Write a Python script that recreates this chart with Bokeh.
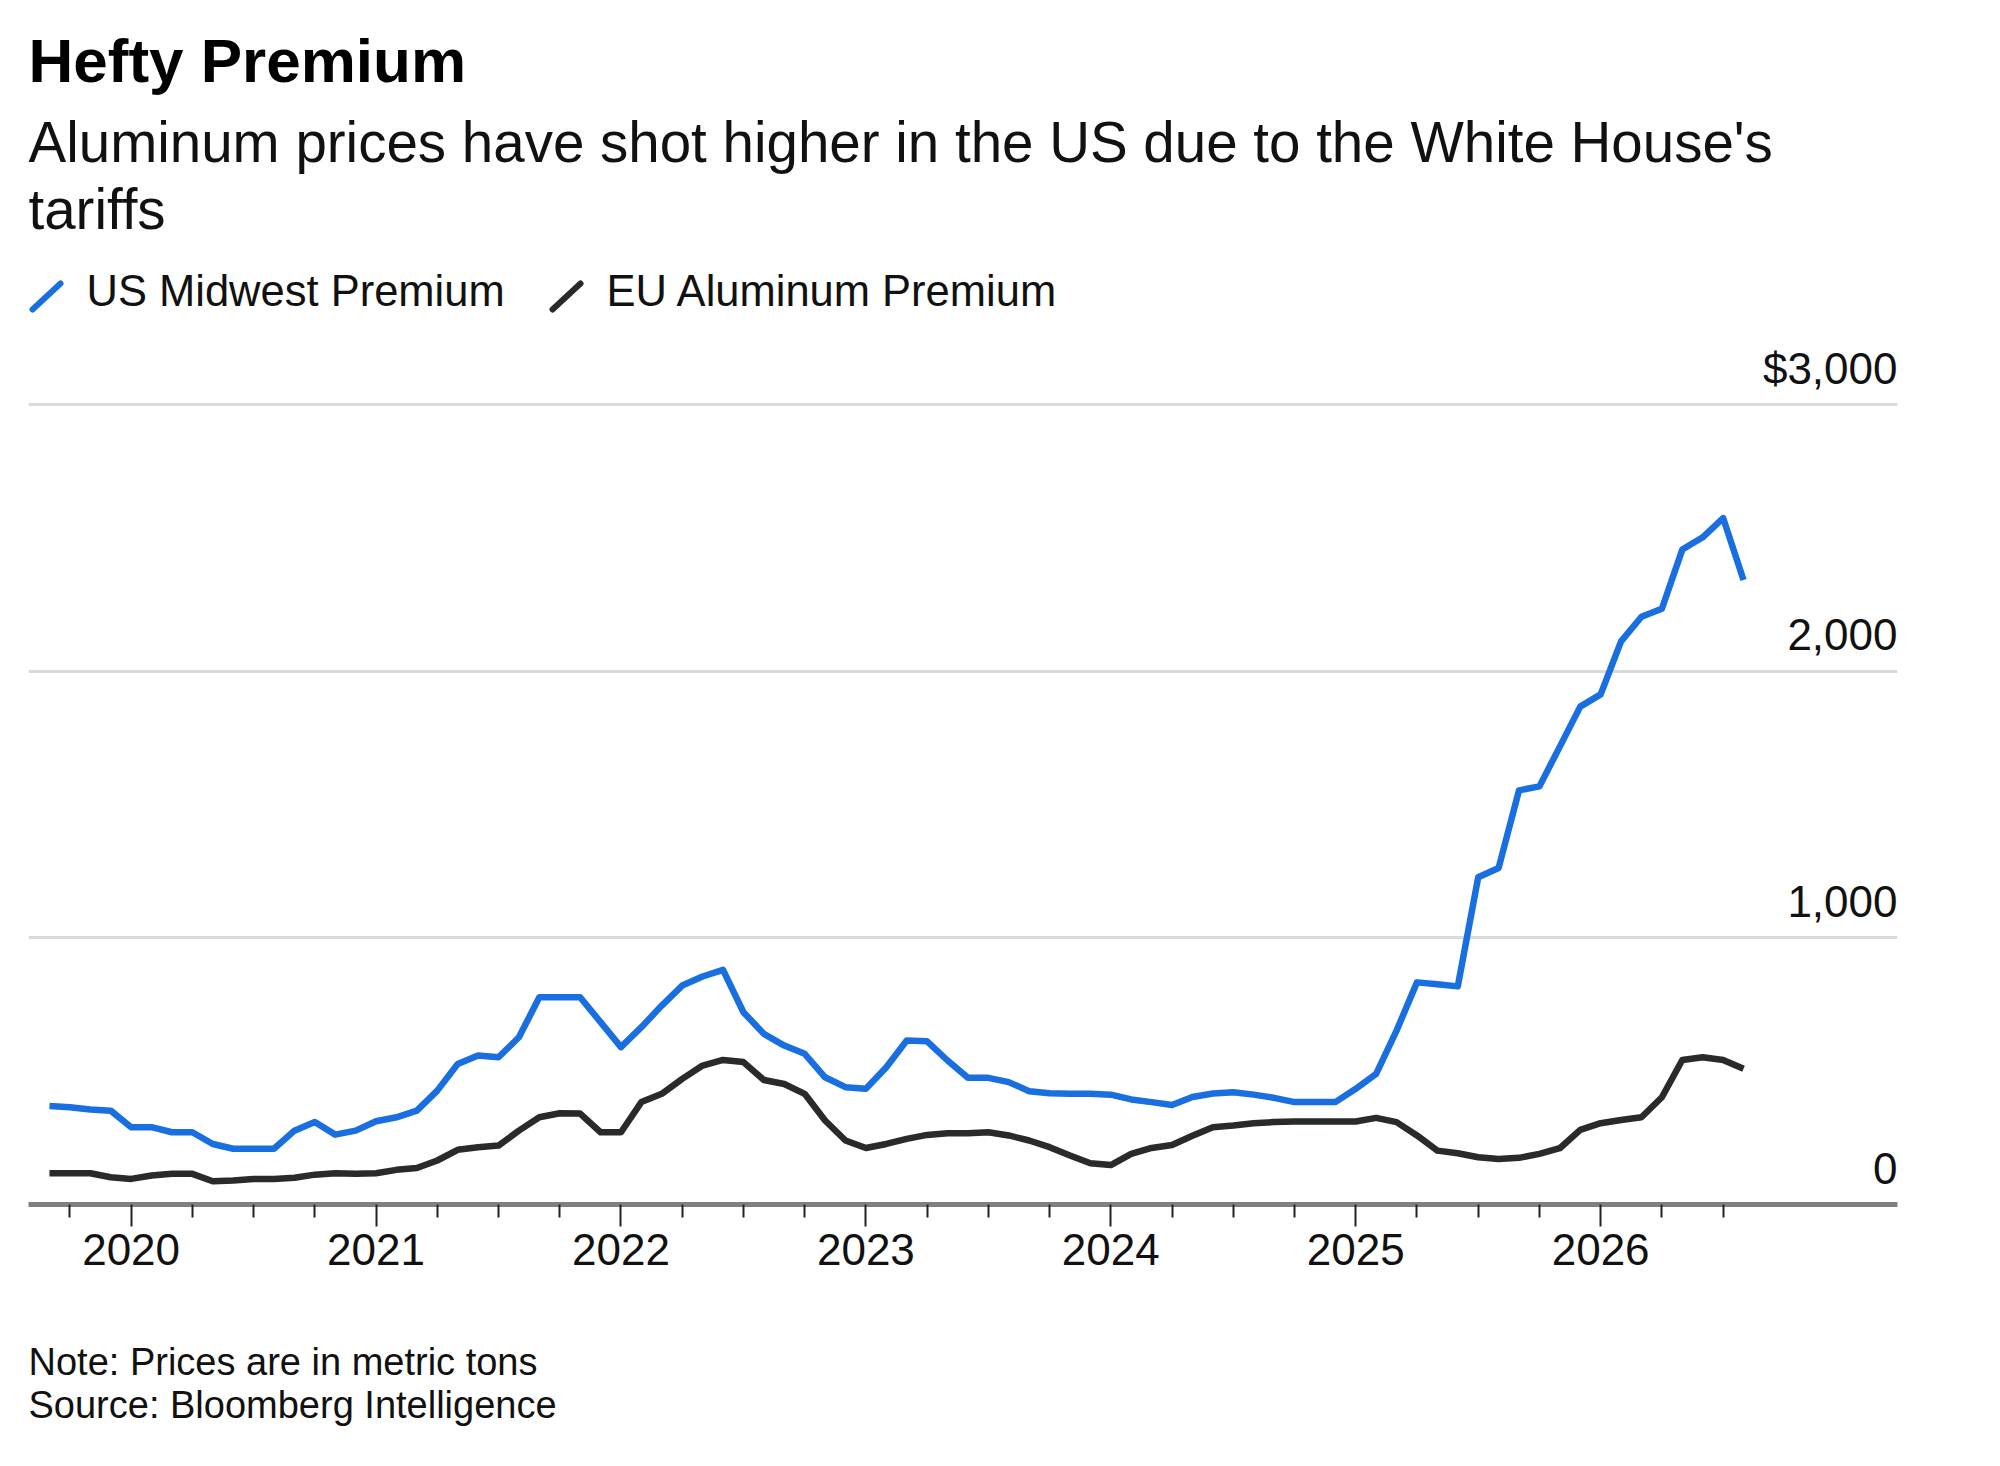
import pandas as pd
from bokeh.plotting import figure
from bokeh.layouts import column
from bokeh.models import Range1d, FixedTicker, Label
from bokeh.embed import file_html
from bokeh.resources import INLINE

# ---------------- data ----------------
start_month = "2019-09"
us_midwest = [369, 365, 356, 352, 290, 290, 271, 271, 227, 209, 209, 209,
              277, 309, 262, 277, 312, 327, 352, 427, 527, 559, 552, 627,
              777, 777, 777, 684, 590, 665, 746, 821, 855, 880, 721, 640,
              596, 565, 477, 440, 434, 515, 615, 612, 540, 475, 475, 459,
              425, 417, 415, 415, 412, 394, 384, 373, 403, 416, 421, 412,
              400, 384, 384, 384, 434, 490, 652, 833, 826, 818, 1227, 1262,
              1553, 1568, 1717, 1867, 1913, 2112, 2204, 2234, 2456, 2502, 2574, 2342]
eu_premium = [117, 117, 117, 102, 96, 109, 115, 115, 87, 90, 96, 96,
              100, 112, 117, 115, 117, 130, 137, 165, 205, 215, 221, 277,
              327, 342, 341, 271, 271, 384, 415, 471, 521, 542, 534, 467,
              452, 415, 315, 240, 212, 227, 246, 261, 267, 267, 271, 259,
              240, 215, 184, 155, 148, 190, 212, 223, 258, 290, 296, 305,
              309, 311, 311, 311, 311, 325, 309, 259, 202, 192, 177, 171,
              175, 190, 211, 280, 305, 317, 327, 402, 542, 552, 542, 509]
year_ticks = [2020, 2021, 2022, 2023, 2024, 2025, 2026]
year_labels = ["2020", "2021", "2022", "2023", "2024", "2025", "2026"]
y_ticks = [0, 1000, 2000, 3000]
y_labels = ["0", "1,000", "2,000", "$3,000"]
series_names = ["US Midwest Premium", "EU Aluminum Premium"]

title_text = "Hefty Premium"
subtitle_lines = ["Aluminum prices have shot higher in the US due to the White House's",
                  "tariffs"]
note_lines = ["Note: Prices are in metric tons", "Source: Bloomberg Intelligence"]

months = pd.period_range(start_month, periods=len(us_midwest), freq="M")
xs = [m.year + (m.month - 1) / 12 for m in months]

BLUE = "#1a6fe0"
DARK = "#2a2a2a"
TXT = "#111111"
FONT = "Liberation Sans"
LEFT, FW, RIGHT = 28, 1869, 95
MID = 0.347  # labels are anchored at the middle of their text box


def blank(height):
    f = figure(frame_width=FW, frame_height=height,
               min_border_left=LEFT, min_border_right=RIGHT,
               min_border_top=0, min_border_bottom=0,
               x_range=Range1d(LEFT, LEFT + FW), y_range=Range1d(height, 0),
               x_axis_location=None, y_axis_location=None,
               output_backend="svg", toolbar_location=None)
    f.outline_line_color = None
    f.grid.visible = False
    return f


def text(f, txt, x, baseline, size, bold=False, color=TXT):
    f.add_layout(Label(x=x, y=baseline - MID * size, text=txt, text_align="left",
                       text_baseline="middle", text_font=FONT,
                       text_font_size=f"{size}px", text_color=color,
                       text_font_style="bold" if bold else "normal"))


# ---------------- header ----------------
HH = 338
head = blank(HH)
text(head, title_text, 28, 82, 62, bold=True, color="#000000")
text(head, subtitle_lines[0], 28, 162, 56.5)
text(head, subtitle_lines[1], 28, 229, 56.5)
text(head, series_names[0], 86, 306, 43.5)
text(head, series_names[1], 606, 306, 43.5)
head.segment(x0=[32, 552], y0=[309, 309], x1=[60, 580], y1=[283, 283],
             line_color=[BLUE, DARK], line_width=6, line_cap="round")

# ---------------- main chart ----------------
FH = 856
YTOP = 3210
px_per_unit = FH / YTOP
p = figure(frame_width=FW, frame_height=FH,
           min_border_left=LEFT, min_border_right=RIGHT,
           min_border_top=10, min_border_bottom=90,
           x_range=Range1d(2019.581, 2027.212), y_range=Range1d(0, YTOP),
           y_axis_location=None, output_backend="svg", toolbar_location=None,
           background_fill_color="white", border_fill_color="white")
p.outline_line_color = None
p.xgrid.visible = False
p.ygrid.ticker = FixedTicker(ticks=y_ticks)
p.ygrid.grid_line_color = "#dadada"
p.ygrid.grid_line_width = 3

minor = []
for yr in range(2019, 2027):
    for q in (0.25, 0.5, 0.75):
        t = yr + q
        if 2019.7 < t < 2026.6:
            minor.append(t)
xa = p.xaxis[0]
xa.ticker = FixedTicker(ticks=year_ticks, minor_ticks=minor)
xa.major_label_overrides = {t: l for t, l in zip(year_ticks, year_labels)}
xa.axis_line_color = "#808080"
xa.axis_line_width = 5
xa.major_tick_line_color = "#222222"
xa.major_tick_line_width = 2
xa.major_tick_in = 0
xa.major_tick_out = 22
xa.minor_tick_line_color = "#222222"
xa.minor_tick_line_width = 2
xa.minor_tick_in = 0
xa.minor_tick_out = 13
xa.major_label_standoff = 7
xa.major_label_text_font = FONT
xa.major_label_text_font_size = "44px"
xa.major_label_text_color = TXT

p.line(xs, eu_premium, line_color=DARK, line_width=6.5, line_join="round")
p.line(xs, us_midwest, line_color=BLUE, line_width=6.5, line_join="round")

YL = 44
gap = (21 + MID * YL) / px_per_unit  # baseline 21px above its gridline
for v, lab in zip(y_ticks, y_labels):
    p.add_layout(Label(x=FW, x_units="screen", y=v + gap, y_units="data",
                       text=lab, text_align="right", text_baseline="middle",
                       text_font=FONT, text_font_size=f"{YL}px", text_color=TXT))

# ---------------- footer ----------------
foot = blank(150)
text(foot, note_lines[0], 28, 81, 38)
text(foot, note_lines[1], 28, 124, 38)

layout = column(head, p, foot, spacing=0)
open("out.html", "w").write(file_html(layout, INLINE))
